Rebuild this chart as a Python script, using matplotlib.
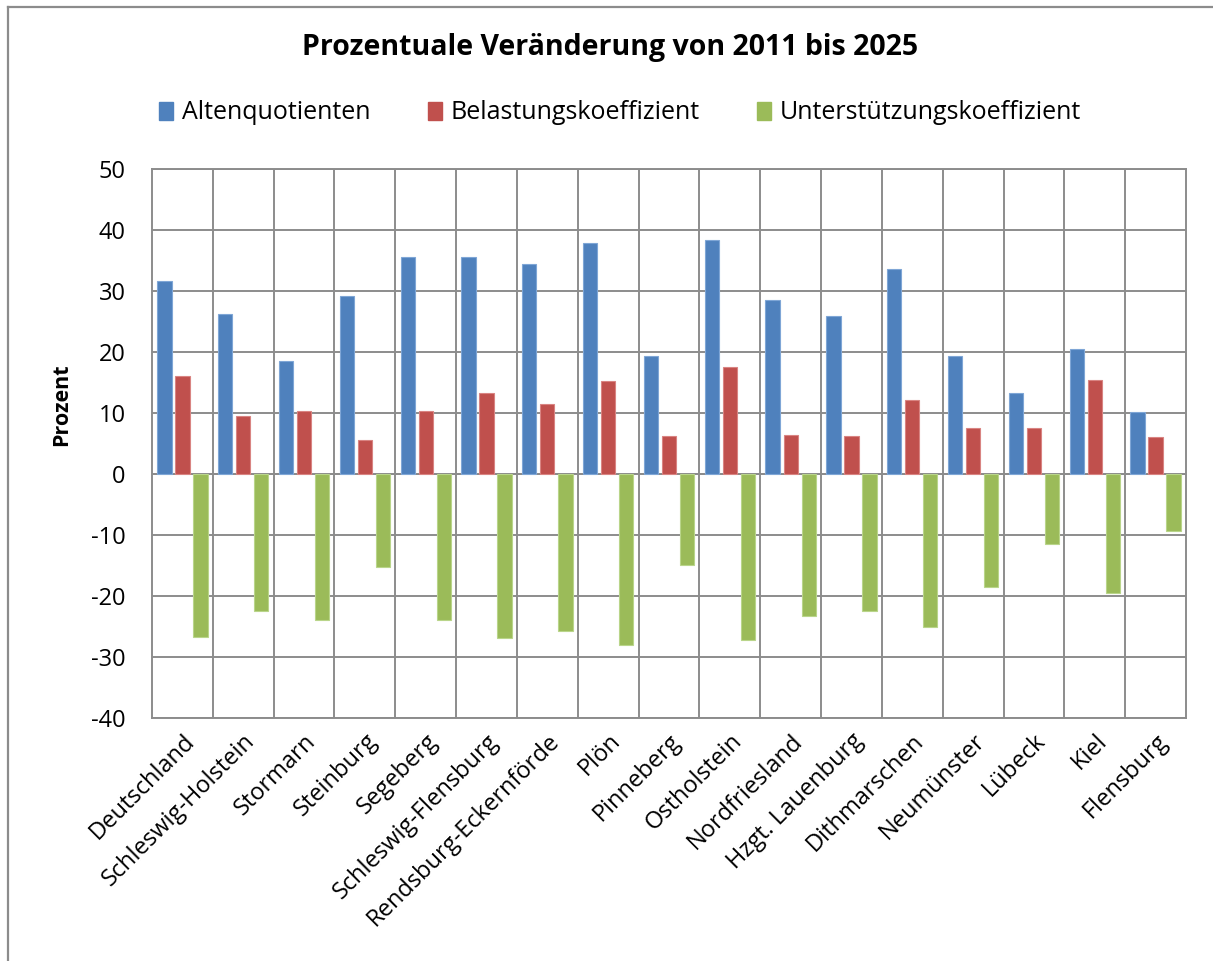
import numpy as np
import matplotlib
matplotlib.use("Agg")
import matplotlib.pyplot as plt
from matplotlib.patches import Patch
from matplotlib.lines import Line2D

plt.rcParams['font.family'] = ['Open Sans', 'DejaVu Sans']
plt.rcParams['axes.unicode_minus'] = False

# Kreise / Regionen
regionen = ['Deutschland', 'Schleswig-Holstein', 'Stormarn', 'Steinburg', 'Segeberg',
            'Schleswig-Flensburg', 'Rendsburg-Eckernförde', 'Plön', 'Pinneberg',
            'Ostholstein', 'Nordfriesland', 'Hzgt. Lauenburg', 'Dithmarschen',
            'Neumünster', 'Lübeck', 'Kiel', 'Flensburg']

# Veränderung 2011 -> 2025 in Prozent
altenquotient = [31.6, 26.2, 18.6, 29.2, 35.6, 35.6, 34.5, 37.8, 19.4,
                 38.3, 28.6, 25.9, 33.6, 19.4, 13.2, 20.5, 10.2]
belastung = [16.1, 9.5, 10.4, 5.5, 10.4, 13.2, 11.5, 15.3, 6.2,
             17.6, 6.4, 6.2, 12.2, 7.5, 7.5, 15.4, 6.0]
unterstuetzung = [-26.7, -22.4, -24.0, -15.3, -24.0, -26.9, -25.8, -28.0, -14.9,
                  -27.2, -23.2, -22.4, -25.0, -18.6, -11.4, -19.5, -9.3]

serien = ['Altenquotienten', 'Belastungskoeffizient', 'Unterstützungskoeffizient']
farben = ['#4F81BD', '#C0504D', '#9BBB59']
kanten = ['#7FA6D6', '#D98482', '#B9D58A']

W, H = 1213, 961
fig = plt.figure(figsize=(W / 100, H / 100), dpi=100)
ax = fig.add_axes([152 / W, 1 - 718 / H, (1186 - 152) / W, (718 - 169) / H])

x = np.arange(len(regionen))
breite = 0.235
abstand = 0.296
for i, werte in enumerate([altenquotient, belastung, unterstuetzung]):
    ax.bar(x + (i - 1) * abstand, werte, width=breite, color=farben[i],
           edgecolor=kanten[i], linewidth=0.8, zorder=3)

ax.set_xlim(-0.5, len(regionen) - 0.5)
ax.set_ylim(-40, 50)
ax.set_yticks(np.arange(-40, 51, 10))
ax.set_xticks(x)
ax.set_xticklabels(regionen, rotation=45, ha='right', rotation_mode='anchor', fontsize=17)
ax.set_xticks(np.arange(len(regionen) - 1) + 0.5, minor=True)
ax.tick_params(axis='both', which='both', length=0)
ax.tick_params(axis='y', labelsize=17, pad=19)
ax.tick_params(axis='x', pad=8)

ax.grid(axis='y', which='major', color='#8c8c8c', linewidth=1.4)
ax.grid(axis='x', which='minor', color='#8c8c8c', linewidth=1.4)
ax.grid(axis='x', which='major', visible=False)
ax.set_axisbelow(True)
for s in ax.spines.values():
    s.set_color('#8c8c8c')
    s.set_linewidth(1.4)
ax.axhline(0, color='#8c8c8c', linewidth=1.4, zorder=2)

fig.text(610 / W, 1 - 48 / H, 'Prozentuale Veränderung von 2011 bis 2025',
         ha='center', va='center', fontsize=20.5, fontweight='bold')
fig.text(62 / W, 1 - 405 / H, 'Prozent', rotation=90, ha='center', va='center',
         fontsize=15.5, fontweight='bold')

handles = [Patch(facecolor=c, edgecolor=c) for c in farben]
fig.legend(handles, serien, loc='center', bbox_to_anchor=(620 / W, 1 - 113 / H),
           ncol=3, frameon=False, fontsize=18, handlelength=0.55, handleheight=0.75,
           handletextpad=0.35, columnspacing=2.3)

# Rahmen um das Diagramm
fig.add_artist(Line2D([8 / W, 1], [1 - 7 / H, 1 - 7 / H], color='#8c8c8c', linewidth=1.6,
                      transform=fig.transFigure))
fig.add_artist(Line2D([8 / W, 8 / W], [0, 1 - 7 / H], color='#8c8c8c', linewidth=1.6,
                      transform=fig.transFigure))

fig.savefig('out.png', dpi=100)
